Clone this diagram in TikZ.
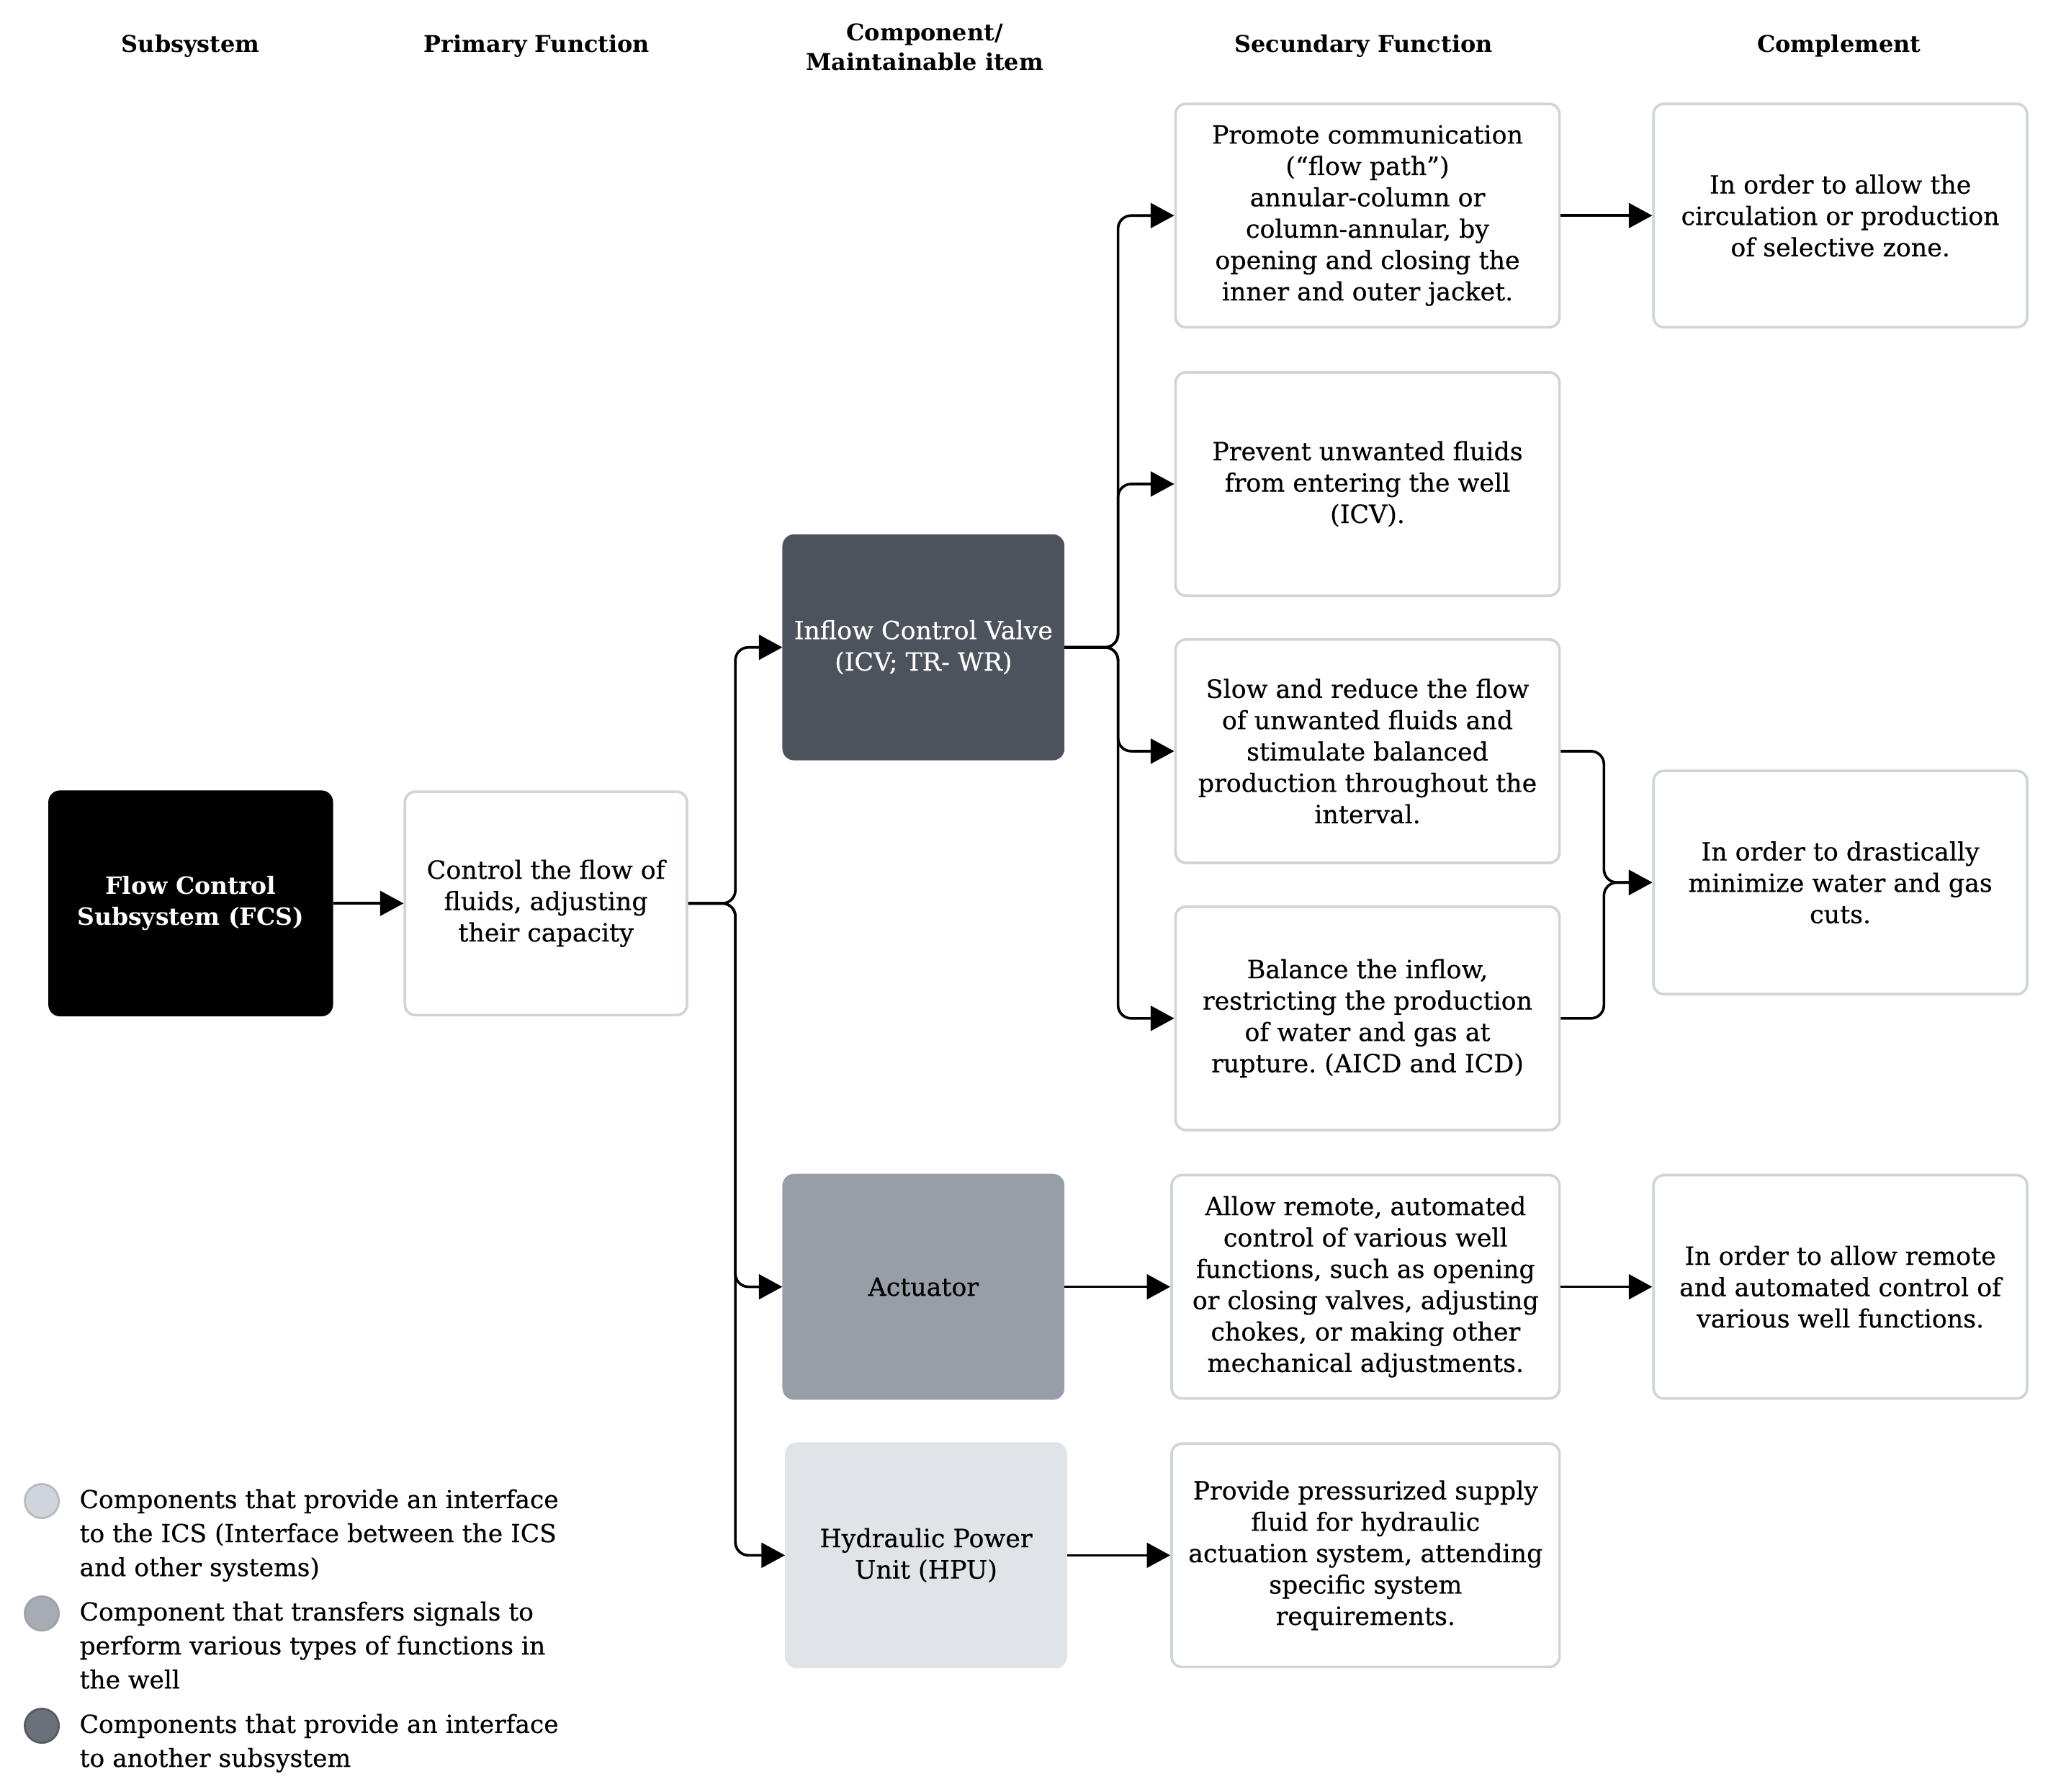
\documentclass[tikz,border=0pt]{standalone}
\usepackage{fontspec}
\setmainfont{DejaVu Serif}
\newfontfamily\medface{DejaVu Serif}[FakeBold=0.4]
\usetikzlibrary{arrows.meta,positioning}
\definecolor{rimgray}{HTML}{CFD4DB}
\definecolor{icvgray}{HTML}{4D535D}
\definecolor{actgray}{HTML}{989EA8}
\definecolor{hpugray}{HTML}{E0E3E8}
\definecolor{legone}{HTML}{D0D5DC}
\definecolor{legtwo}{HTML}{A7ACB4}
\definecolor{legthree}{HTML}{6B717B}
\newcommand\boxfont{\medface\fontsize{9.6}{12}\selectfont}
\newcommand\unitfont{\fontsize{9.1}{12}\selectfont\bfseries}
\newcommand\headfont{\fontsize{8.8}{11.5}\selectfont\bfseries}
\newcommand\legfont{\medface\fontsize{9.5}{13}\selectfont}
\frenchspacing

\begin{document}
\begin{tikzpicture}[x=0.5pt, y=-0.5pt, >={Triangle[length=9pt,width=9.5pt]}, line width=1pt]
\tikzstyle{box}=[rectangle, rounded corners=4pt, draw=rimgray, line width=1pt, fill=white, minimum width=147pt, minimum height=85.5pt, align=center, font=\boxfont, inner sep=2pt]
\tikzstyle{unit}=[box, minimum width=108pt]
\tikzstyle{comp}=[box, minimum width=143pt]
\tikzstyle{head}=[align=center, font=\headfont]
\tikzstyle{link}=[->, rounded corners=5pt]
\tikzstyle{dot}=[circle, minimum size=13pt, inner sep=0pt, line width=0.8pt]
\tikzstyle{legtext}=[anchor=north west, align=left, font=\legfont, inner sep=0pt]
\useasboundingbox (0,0) rectangle (1568,1371.7);

% column headings
\node[head] (h1) at (146,35) {Subsystem};
\node[head] (h2) at (411,35) {Primary Function};
\node[head] (h3) at (708,36) {Component/\\Maintainable item};
\node[head] (h4) at (1044,35) {Secundary Function};
\node[head] (h5) at (1408,35) {Complement};

% subsystem and primary function
\node[unit, fill=black, draw=black, text=white, font=\unitfont] (fcs) at (146,691.5) {Flow Control\\Subsystem (FCS)};
\node[unit] (prim) at (418,691.5) {Control the flow of\\fluids, adjusting\\their capacity};

% components
\node[unit, fill=icvgray, draw=icvgray, text=white, minimum width=107pt] (icv) at (707,495.5) {Inflow Control Valve\\(ICV; TR- WR)};
\node[unit, fill=actgray, draw=actgray, minimum width=107pt] (act) at (707,985) {Actuator};
\node[unit, fill=hpugray, draw=hpugray, minimum width=107pt] (hpu) at (709,1190.5) {Hydraulic Power\\Unit (HPU)};

% secondary functions
\node[box] (s1) at (1047,165) {Promote communication\\(“flow path”)\\annular-column or\\column-annular, by\\opening and closing the\\inner and outer jacket.};
\node[box] (s2) at (1047,370.5) {Prevent unwanted fluids\\from entering the well\\(ICV).};
\node[box] (s3) at (1047,575) {Slow and reduce the flow\\of unwanted fluids and\\stimulate balanced\\production throughout the\\interval.};
\node[box] (s4) at (1047,779.5) {Balance the inflow,\\restricting the production\\of water and gas at\\rupture. (AICD and ICD)};
\node[box, minimum width=148.5pt] (s5) at (1045.5,985) {Allow remote, automated\\control of various well\\functions, such as opening\\or closing valves, adjusting\\chokes, or making other\\mechanical adjustments.};
\node[box, minimum width=148.5pt] (s6) at (1045.5,1190.5) {Provide pressurized supply\\fluid for hydraulic\\actuation system, attending\\specific system\\requirements.};

% complements
\node[comp] (c1) at (1409,165) {In order to allow the\\circulation or production\\of selective zone.};
\node[comp] (c2) at (1409,675.5) {In order to drastically\\minimize water and gas\\cuts.};
\node[comp] (c3) at (1409,985) {In order to allow remote\\and automated control of\\various well functions.};

% branch points
\coordinate (b1) at (563,691.5);
\coordinate (b2) at (856,495.5);
\coordinate (b3) at (1228,675.5);

% connectors
\draw[->] (fcs) -- (prim);
\draw[link] (prim.east) -- (b1) |- (icv.west);
\draw[link] (prim.east) -- (b1) |- (act.west);
\draw[link] (prim.east) -- (b1) |- (hpu.west);
\draw[link] (icv.east) -- (b2) |- (s1.west);
\draw[link] (icv.east) -- (b2) |- (s2.west);
\draw[link] (icv.east) -- (b2) |- (s3.west);
\draw[link] (icv.east) -- (b2) |- (s4.west);
\draw[->] (s1) -- (c1);
\draw[link] (s3.east) -| (b3) -- (c2.west);
\draw[link] (s4.east) -| (b3) -- (c2.west);
\draw[->] (act) -- (s5);
\draw[->] (s5) -- (c3);
\draw[->] (hpu) -- (s6);

% legend
\node[dot, fill=legone, draw=legone!70!gray] (l1) at (32,1149) {};
\node[dot, fill=legtwo, draw=legtwo!80!gray] (l2) at (32,1235) {};
\node[dot, fill=legthree, draw=legthree!80!black] (l3) at (32,1321) {};
\node[legtext] (t1) at (60,1139) {Components that provide an interface\\to the ICS (Interface between the ICS\\and other systems)};
\node[legtext] (t2) at (60,1225) {Component that transfers signals to\\perform various types of functions in\\the well};
\node[legtext] (t3) at (60,1311) {Components that provide an interface\\to another subsystem};
\end{tikzpicture}
\end{document}
